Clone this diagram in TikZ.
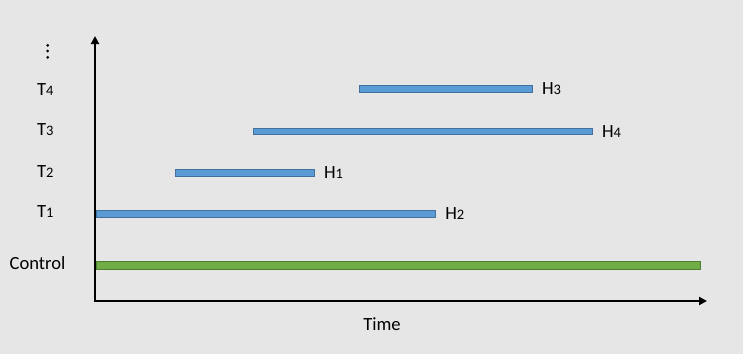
\documentclass[tikz,border=0pt]{standalone}
\usepackage{fontspec}
\setmainfont{Carlito}
\usetikzlibrary{positioning,arrows.meta}

\definecolor{paper}{HTML}{E7E6E6}
\definecolor{barblue}{HTML}{5B9BD5}
\definecolor{edgeblue}{HTML}{41719C}
\definecolor{bargreen}{HTML}{70AD47}
\definecolor{edgegreen}{HTML}{507E32}

\newcommand{\subidx}[1]{{\fontsize{14.5}{14.5}\selectfont #1}}

\begin{document}
\begin{tikzpicture}[x=1pt, y=-1pt, font=\fontsize{18.6}{22}\selectfont,
    axis/.style={line width=2pt, line join=miter, {Triangle[length=8pt,width=8pt]}-{Triangle[length=8pt,width=8pt]}},
    treat/.style={draw=edgeblue, fill=barblue, line width=0.9pt, inner sep=0pt, minimum height=6.8pt, anchor=west},
    ctrl/.style={draw=edgegreen, fill=bargreen, line width=0.9pt, inner sep=0pt, minimum height=8.4pt, anchor=west},
    tag/.style={inner sep=0pt, anchor=base}]

%pozadina i okvir
\fill[paper] (0,0) rectangle (743,354);
\useasboundingbox (0,0) rectangle (743,354);

%osi
\coordinate (o) at (95,301);
\coordinate (ytop) at (95,36);
\coordinate (xend) at (707,301);
\draw[axis] (ytop) -- (o) -- (xend);

%trake
\node (b1) [treat, minimum width=339pt] at (96.3,214) {};
\node (b2) [treat, minimum width=139pt] at (175,173) {};
\node (b3) [treat, minimum width=339pt] at (253,131.5) {};
\node (b4) [treat, minimum width=173pt] at (359,88.7) {};
\node (bc) [ctrl, minimum width=604pt] at (95.5,265.3) {};

%oznake na desnoj strani traka
\begin{scope}[node distance=9pt]
    \node (h2) [right=of b1, inner sep=0pt] {H\subidx{2}};
    \node (h1) [right=of b2, inner sep=0pt] {H\subidx{1}};
    \node (h4) [right=of b3, inner sep=0pt] {H\subidx{4}};
    \node (h3) [right=of b4, inner sep=0pt] {H\subidx{3}};
\end{scope}

%oznake na lijevoj strani
\node (t1) [tag] at (45.3,217.7) {T\subidx{1}};
\node (t2) [tag] at (45.3,177) {T\subidx{2}};
\node (t3) [tag] at (45.3,135) {T\subidx{3}};
\node (t4) [tag] at (45.3,95) {T\subidx{4}};
\node (control) [tag] at (37.5,269.3) {Control};
\foreach \y in {45.3,51,57.3}
    \fill (47.7,\y) circle (1.5pt);

%vrijeme
\node (time) [tag] at (382,330) {Time};

\end{tikzpicture}
\end{document}
